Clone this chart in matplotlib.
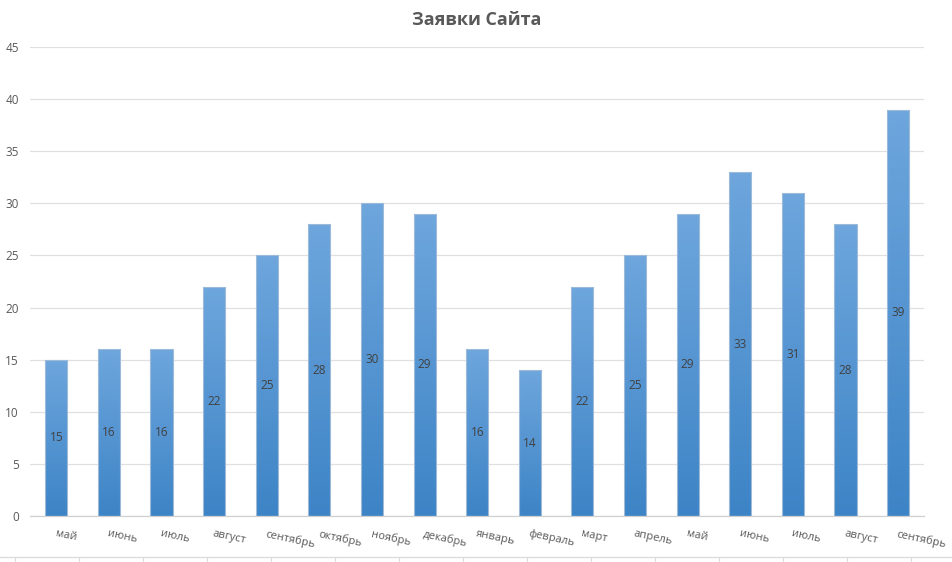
import numpy as np
import matplotlib
matplotlib.use("Agg")
import matplotlib.pyplot as plt
from matplotlib.colors import LinearSegmentedColormap
from matplotlib.lines import Line2D

title = "Заявки Сайта"
months = ["май", "июнь", "июль", "август", "сентябрь", "октябрь", "ноябрь",
          "декабрь", "январь", "февраль", "март", "апрель", "май", "июнь",
          "июль", "август", "сентябрь"]
values = [15, 16, 16, 22, 25, 28, 30, 29, 16, 14, 22, 25, 29, 33, 31, 28, 39]
yticks = [0, 5, 10, 15, 20, 25, 30, 35, 40, 45]

plt.rcParams['font.family'] = ['Open Sans', 'DejaVu Sans']

fig = plt.figure(figsize=(9.53, 5.62), dpi=100)
ax = fig.add_axes([0.0315, 0.0819, 0.9385, 0.8345])

x = np.arange(len(months))
bars = ax.bar(x, values, width=0.42, color='none', edgecolor='#9dbbd8',
              linewidth=0.8, zorder=3)

cmap = LinearSegmentedColormap.from_list('g', ['#3d84c6', '#6ea6dd'])
grad = np.linspace(0, 1, 256).reshape(-1, 1)
for b in bars:
    x0, w, h = b.get_x(), b.get_width(), b.get_height()
    im = ax.imshow(grad, cmap=cmap, aspect='auto', origin='lower',
                   extent=[x0, x0 + w, 0, h], zorder=2, interpolation='bilinear')
    im.set_clip_path(b)
    ax.text(x0 + w / 2, h / 2, str(int(h)),
            ha='center', va='center', fontsize=8.5, color='#404040', zorder=4)

ax.set_xlim(-0.5, len(months) - 0.5)
ax.set_ylim(0, 45)
ax.set_yticks(yticks)
ax.set_yticklabels([str(t) for t in yticks], fontsize=8.5, color='#595959')
ax.set_xticks(x)
ax.set_xticklabels(months, fontsize=8, color='#595959', rotation=-12,
                   ha='left', va='top', rotation_mode='anchor')
ax.tick_params(axis='both', length=0)
ax.tick_params(axis='x', pad=9)
ax.tick_params(axis='y', pad=8)
ax.grid(axis='y', color='#e0e0e0', linewidth=0.9, zorder=0)
ax.set_axisbelow(True)
for s in ['top', 'right', 'left']:
    ax.spines[s].set_visible(False)
ax.spines['bottom'].set_color('#d0d0d0')
ax.spines['bottom'].set_linewidth(0.9)

fig.text(0.5, 0.965, title, ha='center', va='center', fontsize=13,
         fontweight='bold', color='#595959')

# spreadsheet border at the bottom
fig.add_artist(Line2D([0, 1], [0.009, 0.009], color='#dcdcdc', lw=1.0,
                      transform=fig.transFigure))
for cx in np.arange(15, 953, 64):
    fig.add_artist(Line2D([cx / 953, cx / 953], [0.0, 0.009], color='#dcdcdc',
                          lw=0.8, transform=fig.transFigure))

fig.savefig('out.png', dpi=100)
